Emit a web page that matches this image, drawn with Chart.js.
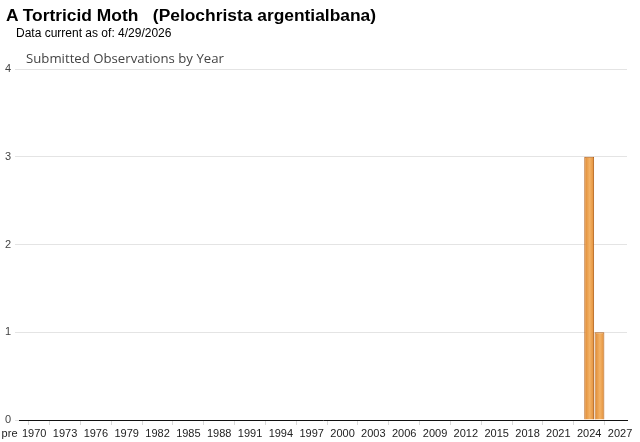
<!DOCTYPE html>
<html>
<head>
<meta charset="utf-8">
<script src="https://cdn.jsdelivr.net/npm/chart.js@4/dist/chart.umd.min.js"></script>
<style>
  html, body { margin: 0; padding: 0; background: #fff; }
  #wrap { position: relative; width: 640px; height: 442px; overflow: hidden; }
  #c { position: absolute; left: 0; top: 0; }
  .t { position: absolute; white-space: pre; line-height: 1; }
  #t1 { left: 6px; top: 5px; font: bold 17.4px "Liberation Sans", Arial, sans-serif; color: #000; }
  #t2 { left: 16px; top: 26px; font: 12px "Liberation Sans", Arial, sans-serif; color: #000; }
  #t3 { left: 26px; top: 49px; font: 13.2px "Open Sans", "Liberation Sans", sans-serif; color: #444; }
</style>
</head>
<body>
<div id="wrap">
  <canvas id="c" width="640" height="442"></canvas>
  <div class="t" id="t1">A Tortricid Moth   (Pelochrista argentialbana)</div>
  <div class="t" id="t2">Data current as of: 4/29/2026</div>
  <div class="t" id="t3">Submitted Observations by Year</div>
</div>
<script>
// ---- data ----
const years = [2024, 2025];
const counts = [3, 1];
const tickYears = [1970, 1973, 1976, 1979, 1982, 1985, 1988, 1991, 1994, 1997, 2000,
                   2003, 2006, 2009, 2012, 2015, 2018, 2021, 2024, 2027];
const preLabel = 'pre';
const preValue = 1967.6;     // where the "pre" label sits
const firstCat = 1968.88;    // first (pre) category tick mark
const yTicks = [0, 1, 2, 3, 4];
const xMin = 1968.52, xMax = 2027.68;

const points = years.map((y, i) => ({ x: y, y: counts[i] }));

function barFill(ctx) {
  const chart = ctx.chart;
  const sx = chart.scales && chart.scales.x;
  if (!ctx.parsed || !sx) return '#eb9a45';
  const cx = sx.getPixelForValue(ctx.parsed.x) + 0.5;
  if (!Number.isFinite(cx)) return '#eb9a45';
  const g = chart.ctx.createLinearGradient(cx - 5, 0, cx + 5, 0);
  g.addColorStop(0, '#e08a32');
  g.addColorStop(0.5, '#f3b266');
  g.addColorStop(1, '#e08a32');
  return g;
}

new Chart(document.getElementById('c'), {
  type: 'bar',
  data: {
    datasets: [{
      data: points,
      backgroundColor: barFill,
      borderColor: '#b5621a',
      borderWidth: 1,
      barPercentage: 0.96,
      categoryPercentage: 1
    }]
  },
  options: {
    responsive: false,
    animation: false,
    layout: { padding: { top: 69, left: 0, right: 13, bottom: 0 } },
    plugins: { legend: { display: false }, tooltip: { enabled: false } },
    scales: {
      x: {
        type: 'linear',
        min: xMin, max: xMax,
        offset: false,
        afterBuildTicks: (s) => {
          s.ticks = [{ value: preValue }, { value: firstCat }].concat(tickYears.map(v => ({ value: v })));
        },
        afterFit: (s) => { s.height = 22; s.paddingLeft = 0; s.paddingRight = 0; },
        ticks: {
          autoSkip: false,
          maxRotation: 0,
          padding: 2,
          color: '#222',
          font: { family: '"Liberation Sans", Arial, sans-serif', size: 11 },
          callback: (v) => {
            if (v === preValue) return preLabel;
            if (v === firstCat) return '';
            return String(v);
          }
        },
        grid: {
          drawOnChartArea: false,
          drawTicks: true,
          tickLength: 5,
          tickColor: (ctx) => (ctx.tick && ctx.tick.value === preValue) ? 'rgba(0,0,0,0)' : '#d8d8d8'
        },
        border: { display: true, color: '#111', width: 1 }
      },
      y: {
        min: 0, max: 4,
        afterBuildTicks: (s) => { s.ticks = yTicks.map(v => ({ value: v })); },
        afterFit: (s) => { s.width = 19; },
        ticks: {
          padding: 4,
          color: '#444',
          font: { family: '"Liberation Sans", Arial, sans-serif', size: 11 }
        },
        grid: {
          color: (ctx) => (ctx.tick && ctx.tick.value === 0) ? 'rgba(0,0,0,0)' : '#e4e4e4',
          tickColor: '#e4e4e4',
          tickLength: 4
        },
        border: { display: false }
      }
    }
  }
});
</script>
</body>
</html>
